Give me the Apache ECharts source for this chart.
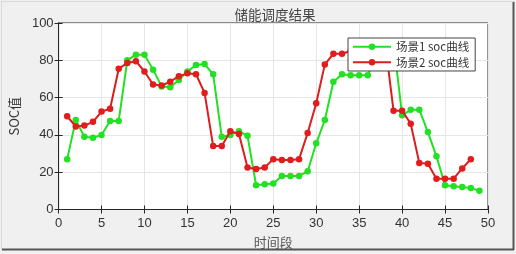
<!DOCTYPE html>
<html>
<head>
<meta charset="utf-8">
<script src="https://cdn.jsdelivr.net/npm/echarts@6/dist/echarts.min.js"></script>
<style>
html,body{margin:0;padding:0;background:#fff;}
#c{width:516px;height:254px;}
</style>
</head>
<body>
<div id="c"></div>
<script>
const titleText = '储能调度结果';
const xName = '时间段';
const yName = 'SOC值';
const series1Name = '场景1 soc曲线';
const series2Name = '场景2 soc曲线';
const xTicks = [0, 5, 10, 15, 20, 25, 30, 35, 40, 45, 50];
const yTicks = [0, 20, 40, 60, 80, 100];

const steps1 = [1,2,3,4,5,6,7,8,9,10,11,12,13,14,15,16,17,18,19,20,21,22,23,24,25,26,27,28,29,30,31,32,33,34,35,36,37,38,39,40,41,42,43,44,45,46,47,48,49];
const soc1 = [27,48,39,38.5,40,47.5,47.5,80,83,83,75,66,65.5,69.5,74,77.5,78,72.5,39,40,42,39.5,13,13.5,14,18,18,18,20.5,35.5,48,68.5,72.5,72,72,72,82,87,90,50.5,53.5,53.5,41.5,28.5,13,12.5,12,11.5,10];

const steps2 = [1,2,3,4,5,6,7,8,9,10,11,12,13,14,15,16,17,18,19,20,21,22,23,24,25,26,27,28,29,30,31,32,33,34,35,36,37,38,39,40,41,42,43,44,45,46,47,48];
const soc2 = [50,44.5,45,47,52.5,54,75.5,78.5,79.5,74,67,66.5,68.5,71.5,73,72.5,62.5,34,34,42,40.5,22.5,21.7,22.5,27,26.5,26.5,27,41,57,77.8,83.5,83.5,85,87,88,89,90,53,53,46,25,24.5,16.5,16.5,16.5,22,27];

const chart = echarts.init(document.getElementById('c'), null, {renderer:'canvas'});
const font = 'Liberation Sans, Arial, Helvetica, sans-serif';
const G = {left:49, right:28, top:23, bottom:44.5};

chart.setOption({
  backgroundColor:'#f0f0f0',
  animation:false,
  title:{text:titleText, left:270, top:3, textAlign:'center',
    textStyle:{fontSize:13.5, fontWeight:'normal', color:'#444', fontFamily:'Noto Sans CJK SC, sans-serif'}},
  grid:{left:G.left, right:G.right, top:G.top, bottom:G.bottom, show:true, backgroundColor:'#fff', borderColor:'#262626', borderWidth:1},
  legend:{
    orient:'vertical', left:348, top:38,
    backgroundColor:'#fff', borderColor:'#444', borderWidth:1,
    padding:[3,6,3,4], itemGap:4, itemWidth:38, itemHeight:8,
    textStyle:{fontSize:11.5, color:'#333', fontFamily:'Noto Sans CJK SC, sans-serif'},
    data:[series1Name, series2Name]
  },
  xAxis:[{
    type:'value', min:0, max:50, interval:5,
    name:xName, nameLocation:'middle', nameGap:26,
    nameTextStyle:{fontSize:13, color:'#555', fontFamily:'Noto Sans CJK SC, sans-serif'},
    axisLine:{show:true, lineStyle:{color:'#262626'}},
    axisTick:{show:true, inside:true, length:4, lineStyle:{color:'#262626'}},
    axisLabel:{fontSize:13, color:'#333', margin:7, fontFamily:font},
    splitLine:{show:true, lineStyle:{color:'#e6e6e6'}},
    data: xTicks
  },{
    type:'value', min:0, max:50, interval:5, position:'top',
    axisLine:{show:true, lineStyle:{color:'#262626'}},
    axisTick:{show:true, inside:true, length:4, lineStyle:{color:'#262626'}},
    axisLabel:{show:false}, splitLine:{show:false}
  }],
  yAxis:[{
    type:'value', min:0, max:100, interval:20,
    name:yName, nameLocation:'middle', nameGap:33, nameRotate:90,
    nameTextStyle:{fontSize:13, color:'#333', fontFamily:'Noto Sans CJK SC, sans-serif'},
    axisLine:{show:true, lineStyle:{color:'#262626'}},
    axisTick:{show:true, inside:true, length:4, lineStyle:{color:'#262626'}},
    axisLabel:{fontSize:13, color:'#333', margin:5, fontFamily:font},
    splitLine:{show:true, lineStyle:{color:'#e6e6e6'}},
    data: yTicks
  },{
    type:'value', min:0, max:100, interval:20, position:'right',
    axisLine:{show:true, lineStyle:{color:'#262626'}},
    axisTick:{show:true, inside:true, length:4, lineStyle:{color:'#262626'}},
    axisLabel:{show:false}, splitLine:{show:false}
  }],
  series:[{
    name:series1Name, type:'line', xAxisIndex:0, yAxisIndex:0,
    data: steps1.map((s,i)=>[s, soc1[i]]),
    symbol:'circle', symbolSize:6.5, showSymbol:true,
    lineStyle:{width:2, color:'#22e022'}, itemStyle:{color:'#22e022'}, z:2
  },{
    name:series2Name, type:'line', xAxisIndex:0, yAxisIndex:0,
    data: steps2.map((s,i)=>[s, soc2[i]]),
    symbol:'circle', symbolSize:6.5, showSymbol:true,
    lineStyle:{width:2, color:'#d91e1e'}, itemStyle:{color:'#e01c1c'}, z:3
  }],
  graphic:[
    {type:'line', shape:{x1:2, y1:249.5, x2:514, y2:249.5}, style:{stroke:'#555', lineWidth:2}, silent:true},
    {type:'line', shape:{x1:513.5, y1:2, x2:513.5, y2:250}, style:{stroke:'#555', lineWidth:2}, silent:true},
    {type:'line', shape:{x1:1, y1:1.5, x2:514, y2:1.5}, style:{stroke:'#d8d8d8', lineWidth:1}, silent:true},
    {type:'line', shape:{x1:1.5, y1:1, x2:1.5, y2:250}, style:{stroke:'#d8d8d8', lineWidth:1}, silent:true}
  ]
});
</script>
</body>
</html>
